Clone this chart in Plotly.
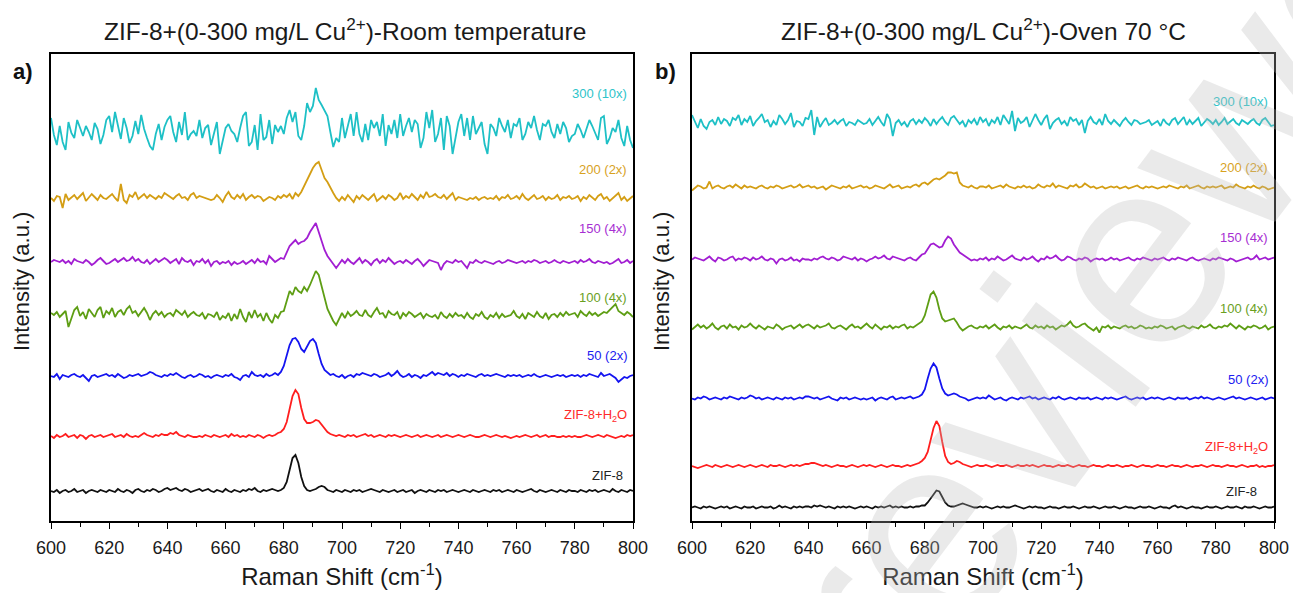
import numpy as np
import plotly.graph_objects as go

# Raman shift axis (cm^-1), 1 cm^-1 steps
shift_start, shift_end = 600, 800

# ---------- panel a: room temperature (intensity above each trace's baseline) ----------
a_zif8 = [0,-1,1,-2,0,1,-1,0,2,-1,0,1,-2,0,1,0,-1,1,0,-1,
          1,0,-1,2,0,-1,1,0,-2,1,2,0,-1,1,0,2,1,-1,0,2,
          3,1,2,3,1,0,2,1,-1,0,1,2,0,1,2,0,-1,1,0,-1,
          2,0,-1,1,0,-1,1,0,2,1,3,0,-1,1,0,1,2,1,0,1,
          3,9,22,33,36,28,14,5,1,0,1,2,4,5,4,1,0,-1,1,0,
          -1,1,0,-1,1,0,1,-1,0,1,2,1,0,-1,1,0,-1,0,1,-1,
          0,1,-1,0,1,-2,0,1,0,-1,1,0,-1,1,0,1,-1,0,1,0,
          -1,0,1,0,-1,1,0,-1,0,1,0,-1,1,0,1,-1,0,1,0,-1,
          1,0,-1,0,1,2,0,-1,1,0,-1,0,1,0,-1,1,0,-1,1,0,
          0,-1,1,0,-1,1,0,1,-1,0,1,0,-1,2,0,-1,1,0,-1,1,
          0]
a_h2o = [0,-2,1,-1,0,2,-1,0,1,-2,1,0,-3,0,1,-1,0,1,-1,0,
         1,2,-1,0,1,-1,2,0,-1,0,-1,1,3,1,0,-1,1,0,2,1,
         1,3,2,4,1,0,-1,1,0,-1,-1,0,-1,1,0,-1,1,0,-1,0,
         1,-1,2,0,1,-1,0,-1,1,0,-1,1,0,-2,0,1,0,1,3,4,
         7,14,28,40,46,42,28,17,13,13,14,16,15,11,7,4,2,1,0,1,
         0,-1,1,0,1,-1,0,1,2,0,1,-1,0,1,0,-1,1,0,1,0,
         -1,0,1,0,-1,0,1,-1,0,1,0,-1,0,1,-1,0,1,0,-1,0,
         1,0,-1,0,1,0,-1,-1,0,1,0,-1,0,1,0,-1,0,-1,-2,-1,
         0,-1,0,1,0,-1,0,1,-1,0,1,-1,0,0,-1,-1,0,-1,0,-1,
         0,-1,-1,0,1,0,-1,0,1,0,-1,1,0,-1,-2,-1,0,-1,1,0,
         1]
a_cu50 = [0,-1,2,-3,1,0,-1,1,2,0,-1,1,-2,-5,0,1,-1,0,1,2,
          0,1,-1,2,0,-2,-1,1,0,1,2,0,1,2,4,3,1,0,-1,1,
          0,2,1,3,1,-1,-2,0,1,-1,0,2,1,-1,0,-2,0,1,0,-1,
          1,0,2,-1,-2,-4,0,1,-1,4,1,0,1,-1,2,0,1,3,1,4,
          10,20,31,37,38,34,27,24,29,35,37,33,22,12,6,3,1,2,0,-1,
          1,-2,0,1,-1,2,1,3,2,1,0,2,1,-1,0,1,3,0,2,5,
          1,-1,0,2,-1,1,0,-2,1,0,2,4,1,3,2,1,3,0,2,1,
          -1,1,0,2,1,0,-1,1,2,0,1,0,1,2,1,0,-1,1,0,1,
          0,1,-1,0,1,0,2,0,-1,0,1,0,-1,0,1,0,1,-1,0,1,
          0,1,-1,1,0,2,1,0,-1,3,0,1,2,0,-2,-6,-3,-1,-2,0,
          1]
a_cu100 = [2,0,3,-2,1,4,-12,-3,5,8,-1,3,-4,6,2,-2,5,8,-3,4,
           1,7,-2,3,5,0,6,9,2,4,-1,3,7,2,-5,1,4,0,3,-2,
           1,2,-1,5,2,0,4,-2,1,3,0,-1,2,-4,1,0,-2,3,-5,-1,
           -3,2,-6,1,-4,6,-2,-7,3,-3,5,-2,1,-6,2,-4,-8,0,-3,3,
           4,14,24,20,28,24,22,28,24,30,38,44,40,28,18,6,0,-6,-10,-4,
           2,-3,3,-1,1,4,0,-1,5,0,-2,3,7,1,2,-3,4,1,0,3,
           -4,2,-1,3,1,-2,0,2,-3,1,-1,-2,0,-4,3,-1,-3,1,-2,2,
           -1,0,-3,2,-2,-4,1,-1,3,-2,-4,0,-2,2,-3,1,-2,-1,0,4,
           -1,-3,1,-4,2,0,-2,3,-1,-3,2,-4,0,1,-2,2,-1,3,0,1,
           2,-2,4,1,-1,3,0,2,-1,1,3,2,5,9,11,4,2,0,3,1,
           -2]
a_cu150 = [0,2,1,0,2,-1,1,-2,3,1,0,-1,2,0,-3,-1,2,4,1,-2,
           -1,1,3,0,2,4,1,2,5,1,3,0,-1,2,-2,1,3,0,2,4,
           2,-1,1,3,-2,4,1,0,2,-3,1,0,3,-1,2,-4,0,1,-2,0,
           -1,1,-3,0,-2,-1,1,-2,0,2,-1,3,0,1,-2,6,3,0,2,4,
           3,9,16,19,22,18,20,21,24,30,35,39,30,20,12,6,2,-3,-6,-2,
           2,-1,3,0,-2,1,4,-1,2,0,-3,1,3,-1,2,0,4,1,-2,0,
           1,-1,2,0,-2,1,3,0,-4,-1,2,1,0,-1,-8,-2,1,0,-1,2,
           0,1,-2,-6,0,-1,2,0,-1,1,0,-1,-2,0,1,-1,0,2,1,0,
           -1,0,1,-1,1,0,2,1,-1,0,1,-1,0,2,0,-1,1,0,-1,0,
           1,-1,2,0,1,3,0,-1,1,0,-1,0,-2,-1,1,3,-1,0,2,-1,
           1]
a_cu200 = [0,-3,2,1,-10,4,-2,1,3,-1,2,5,-3,0,4,1,-2,3,0,-1,
           2,4,0,-3,14,-2,-5,3,1,6,-1,2,4,0,3,1,-1,2,0,5,
           3,1,-1,2,4,0,1,-2,3,5,0,2,1,0,-1,-2,-1,3,0,-4,
           2,6,1,-1,3,0,4,-2,1,3,0,2,1,-3,-1,1,0,-2,2,0,
           3,1,4,-1,5,2,6,12,17,24,30,34,36,28,20,16,10,5,0,-3,
           1,-2,3,0,-4,2,-1,3,0,-2,1,4,-3,0,2,-1,3,1,-2,0,
           5,-1,2,0,4,1,-2,3,0,6,1,2,4,1,0,3,-1,2,5,-2,
           1,0,-1,-2,0,-1,1,-2,0,1,-1,0,-1,2,-2,1,0,3,-1,0,
           2,-1,4,0,-2,1,3,-1,0,2,-2,1,-1,0,3,-2,1,0,2,-1,
           0,2,-3,1,-1,3,0,-2,2,4,-1,1,-3,0,2,5,-2,1,-3,0,
           2]
a_cu300 = [12,-5,-15,4,-12,-20,8,-3,-8,10,2,-6,4,-2,-10,7,1,-14,-5,10,
           14,-2,18,3,-9,12,2,-13,-6,9,-4,15,1,-8,-16,-20,-4,6,-10,3,
           10,14,-2,-12,8,-5,18,-10,-4,-1,-6,10,-8,2,5,-15,-3,8,-24,-10,
           2,6,-1,-4,-12,2,14,18,-16,-12,5,-20,16,-10,-7,10,-14,5,-2,4,
           -4,12,20,8,18,-6,-10,4,27,18,24,42,30,25,20,14,-2,-17,-8,-12,
           12,-8,4,16,-6,18,-4,-12,6,-10,10,2,8,-6,16,-16,5,-4,10,-8,
           16,-6,4,12,-2,10,6,-18,-8,18,2,20,-12,-4,12,-20,14,4,-24,-8,
           8,16,-6,12,-10,14,-4,2,8,-14,-24,6,2,-6,12,4,-2,10,-8,6,
           4,12,-10,-4,8,2,14,0,-10,6,4,10,-2,-8,6,-4,8,2,-12,-6,
           -4,6,0,-8,2,10,4,-4,-10,12,14,-14,-8,2,-2,10,-8,-16,4,-10,
           -18]

# ---------- panel b: oven 70 °C ----------
b_zif8 = [0,1,0,-1,1,0,1,0,-1,0,1,0,1,-1,0,1,0,-1,1,0,
          0,1,-1,0,1,0,0,1,-1,0,2,0,1,0,-1,1,0,1,0,1,
          1,0,2,1,2,1,0,1,0,-1,1,0,1,0,1,0,-1,0,1,0,
          1,0,-1,1,0,1,0,1,2,0,1,0,1,0,0,1,0,1,1,2,
          2,5,9,14,17,16,11,5,2,1,1,2,3,4,3,2,1,0,0,1,
          0,1,0,-1,0,1,0,1,0,0,1,2,1,0,-1,0,1,0,1,0,
          0,-1,0,1,0,0,-1,0,1,0,0,1,0,-1,0,1,0,0,1,0,
          -1,0,1,0,0,1,0,-1,0,1,0,0,-1,0,1,0,0,1,0,-1,
          0,1,0,0,-1,1,2,0,1,0,-1,0,1,0,0,-1,0,1,0,0,
          1,0,-1,0,1,0,0,1,0,-1,1,0,0,1,0,-1,0,1,0,0,
          1]
b_h2o = [0,-1,-2,-1,0,1,0,-1,1,0,-1,0,1,0,-1,0,1,0,-1,0,
         1,0,-1,0,1,0,-1,1,0,0,1,0,-1,0,1,0,1,0,1,2,
         2,3,3,2,1,0,1,0,-1,0,1,0,0,-1,0,1,0,-1,0,1,
         0,1,0,-1,0,1,0,-1,0,1,0,0,-1,0,1,0,1,2,3,5,
         8,14,26,38,45,40,24,10,4,2,3,5,4,2,1,0,-1,0,1,0,
         0,1,0,-1,0,1,0,0,1,0,-1,0,1,0,0,1,0,1,0,-1,
         0,1,0,0,-1,0,1,0,0,1,0,-1,0,1,0,0,-1,0,1,0,
         0,-1,0,1,0,0,1,0,-1,0,0,1,0,-1,0,1,0,0,-1,0,
         1,0,0,-1,0,1,0,0,-1,0,1,0,-1,0,0,1,0,-1,0,1,
         0,0,-1,0,1,0,0,-1,0,1,0,-1,0,0,1,-1,0,-1,0,0,
         1]
b_cu50 = [0,-1,1,0,2,1,-1,0,1,0,-1,1,0,2,1,0,-1,1,0,1,
          3,2,0,1,-1,0,1,0,-1,1,0,-1,1,0,1,-1,0,1,0,2,
          2,1,0,1,-1,0,1,2,0,-1,-2,1,0,1,-1,0,1,0,-1,0,
          -1,0,1,-2,0,1,0,-1,1,2,-1,0,1,0,1,2,0,1,2,4,
          9,20,30,35,31,20,10,5,3,4,5,4,2,1,0,-2,-1,0,1,0,
          1,0,3,1,-1,0,1,-1,-2,0,1,0,-1,1,0,1,2,0,1,-1,
          0,1,0,-1,1,0,2,0,-1,0,1,0,-1,1,0,0,1,-1,0,1,
          0,-1,1,0,1,0,-1,0,1,2,0,-1,0,1,0,1,-1,0,1,0,
          1,0,-1,0,1,0,-1,1,0,0,1,-1,0,1,0,2,0,1,0,-1,
          0,1,0,-1,0,1,2,0,1,0,-1,0,1,0,-1,0,1,-1,0,1,
          0]
b_cu100 = [-2,1,3,0,2,-1,1,4,0,-2,1,2,-1,3,0,1,-2,2,0,1,
           4,1,-1,2,0,-2,1,0,-1,3,1,-2,0,1,2,-1,1,3,0,2,
           3,1,-1,2,0,1,2,4,0,-1,1,2,0,-2,1,3,0,1,-1,2,
           4,1,-1,3,0,-2,1,0,2,-1,1,0,2,3,-1,1,0,2,4,6,
           12,24,33,36,30,18,9,6,7,8,9,5,0,-3,-1,1,2,0,-1,1,
           0,2,-1,1,3,0,-2,1,0,2,-1,1,0,-1,1,3,0,-1,2,0,
           1,-1,2,0,1,-2,0,2,1,3,6,2,0,1,3,4,1,-1,-3,0,
           -5,1,0,2,-1,1,0,-1,1,2,0,1,-1,0,2,1,-1,0,-1,1,
           0,2,1,-1,0,1,-2,0,1,2,0,-1,1,0,-1,2,0,1,3,0,
           -1,1,0,2,1,4,1,-1,2,0,-2,1,0,2,1,-1,0,2,-2,0,
           1]
b_cu150 = [0,2,1,0,-1,1,3,0,-2,2,1,-1,0,2,3,-1,1,0,2,1,
           -1,2,0,1,3,0,-1,1,0,-4,0,1,-1,0,2,-1,0,-2,1,0,
           0,-1,1,0,2,3,1,0,2,1,-1,0,3,2,1,0,2,-1,1,0,
           -2,0,1,3,1,2,4,1,0,3,2,1,0,-1,1,2,0,-1,2,5,
           6,10,15,16,14,12,13,19,23,21,15,11,7,5,3,1,-1,0,-1,1,
           0,2,-1,1,0,3,1,-1,0,2,4,1,0,-1,2,0,1,3,0,-2,
           1,0,3,1,2,4,1,-1,0,3,2,0,-1,1,0,2,1,-2,0,1,
           0,1,-1,0,2,0,1,-1,0,1,2,0,-1,1,0,2,1,0,-1,1,
           0,1,2,0,-1,1,0,2,1,0,-1,1,2,0,-1,0,1,0,-1,1,
           0,2,1,0,-1,1,0,-2,-1,0,1,2,0,1,4,0,1,2,0,1,
           2]
b_cu200 = [-3,0,2,1,-1,0,6,-1,1,2,0,-1,1,2,0,3,1,-1,2,0,
           1,0,-1,1,2,0,-1,1,0,2,1,-1,0,1,2,0,1,3,0,1,
           2,0,1,-1,0,1,-2,0,2,1,0,-1,1,0,2,-1,0,1,2,0,
           1,-1,0,2,1,0,-1,1,3,0,1,2,-1,0,1,0,2,3,1,4,
           5,3,6,8,9,8,10,12,15,15,14,15,5,2,1,0,2,0,-1,1,
           1,0,2,-1,0,1,2,0,3,1,0,-1,1,0,2,0,1,-1,0,3,
           1,0,2,1,4,0,2,1,0,-1,2,1,3,0,1,4,2,0,1,-1,
           0,1,-1,0,1,0,1,-1,0,1,-1,0,1,2,0,-1,1,0,1,0,
           -1,0,1,0,2,1,0,-1,1,0,2,-1,0,1,2,0,-1,1,0,1,
           0,1,2,-1,0,1,0,3,1,0,-1,1,0,2,0,-1,1,0,-2,-1,
           0]
b_cu300 = [8,2,-5,4,-3,-6,1,3,-2,6,-1,4,2,-3,5,3,8,-2,4,1,
           7,-3,2,5,9,1,3,-4,2,-2,8,4,-1,3,10,-4,2,1,-3,5,
           4,13,-12,6,-4,1,5,-2,0,3,-1,2,4,-3,1,0,-2,3,1,-1,
           0,4,-2,2,6,1,-3,9,4,-13,0,3,-2,1,-4,2,4,-1,3,0,
           5,2,-3,4,-1,3,6,1,-2,5,7,3,-1,2,-4,3,0,4,-2,6,
           1,4,-3,3,0,6,-2,8,4,-1,12,-8,5,0,2,6,-4,2,9,3,
           -2,4,8,-6,0,3,5,-1,2,-3,6,2,4,-2,3,-10,2,6,1,-1,
           4,-2,9,2,-1,3,0,-3,2,5,1,-2,3,2,-1,0,1,3,-2,0,
           2,-3,4,0,-2,3,5,-1,2,6,-2,3,-1,2,5,-3,1,4,2,-1,
           3,-2,1,5,-1,2,4,0,-2,3,1,-1,2,4,0,-2,3,5,1,-3,
           -2]

# series names (bottom to top), stacking offsets and label text
series_labels = ["ZIF-8", "ZIF-8+H<sub>2</sub>O", "50 (2x)", "100 (4x)",
                 "150 (4x)", "200 (2x)", "300 (10x)"]
panel_a = [a_zif8, a_h2o, a_cu50, a_cu100, a_cu150, a_cu200, a_cu300]
panel_b = [b_zif8, b_h2o, b_cu50, b_cu100, b_cu150, b_cu200, b_cu300]
offsets_a = [30, 85, 145, 206, 259, 323, 391]
offsets_b = [13.5, 55, 122.5, 193.5, 261.5, 333.5, 398]
label_y_a = [46, 106, 166, 224, 292, 351, 427]
label_y_b = [29.3, 74, 141.5, 212.3, 283.5, 353, 419.5]

line_colors = ["#111111", "#FF1E1E", "#1414F0", "#5E9E14", "#A21ED2", "#D49E14", "#1EC0C6"]
label_colors = ["#222222", "#FF2A2A", "#2020F0", "#6AA01E", "#A62ED2", "#D8A21E", "#2EC4CA"]

W, H = 1293, 593
TOP, BOTTOM = 54, 521
y_span = BOTTOM - TOP

fig = go.Figure()

for panel, offs, xa, ya in [(panel_a, offsets_a, "x", "y"), (panel_b, offsets_b, "x2", "y2")]:
    for vals, off, col in zip(panel, offs, line_colors):
        v = np.asarray(vals, dtype=float)
        x = shift_start + np.arange(len(v))
        fig.add_trace(go.Scatter(x=x, y=v + off, mode="lines", xaxis=xa, yaxis=ya,
                                 line=dict(color=col, width=1.8), showlegend=False,
                                 hoverinfo="skip"))

FONT = "Liberation Sans, Arial, sans-serif"
axis_common = dict(
    range=[shift_start, shift_end], dtick=20, tick0=600, automargin=False,
    showline=True, linecolor="#000000", linewidth=1.6, mirror=True,
    ticks="outside", ticklen=6, tickwidth=1.4, tickcolor="#000000", ticklabelstandoff=4,
    minor=dict(dtick=10, ticks="outside", ticklen=4, tickwidth=1.2, tickcolor="#000000"),
    showgrid=False, zeroline=False,
    tickfont=dict(family=FONT, size=18, color="#1a1a1a"),
    title=dict(text="Raman Shift (cm<sup>-1</sup>)", font=dict(family=FONT, size=24, color="#1a1a1a"),
               standoff=11),
)
yaxis_common = dict(
    range=[0, y_span], showline=True, linecolor="#000000", linewidth=1.6, mirror=True,
    showticklabels=False, ticks="", showgrid=False, zeroline=False, automargin=False,
    domain=[(H - BOTTOM) / H, (H - TOP) / H],
)

fig.update_layout(
    width=W, height=H, autosize=False,
    margin=dict(l=0, r=0, t=0, b=0, pad=0),
    paper_bgcolor="white", plot_bgcolor="white",
    xaxis=dict(domain=[51 / W, 633 / W], anchor="y", **axis_common),
    yaxis=dict(anchor="x", **yaxis_common),
    xaxis2=dict(domain=[692 / W, 1274 / W], anchor="y2", **axis_common),
    yaxis2=dict(anchor="x2", **yaxis_common),
)

ann = []
# panel titles
ann.append(dict(text="ZIF-8+(0-300 mg/L Cu<sup>2+</sup>)-Room temperature", x=345 / W, y=(H - 29) / H,
                xref="paper", yref="paper", showarrow=False, xanchor="center", yanchor="middle",
                font=dict(family=FONT, size=24.5, color="#1a1a1a")))
ann.append(dict(text="ZIF-8+(0-300 mg/L Cu<sup>2+</sup>)-Oven 70 °C", x=983 / W, y=(H - 29) / H,
                xref="paper", yref="paper", showarrow=False, xanchor="center", yanchor="middle",
                font=dict(family=FONT, size=24.5, color="#1a1a1a")))
# panel letters
for txt, px in [("a)", 23), ("b)", 665)]:
    ann.append(dict(text=f"<b>{txt}</b>", x=px / W, y=(H - 72) / H, xref="paper", yref="paper",
                    showarrow=False, xanchor="center", yanchor="middle",
                    font=dict(family=FONT, size=22, color="#111111")))
# y-axis titles
for px in [21, 661]:
    ann.append(dict(text="Intensity (a.u.)", x=px / W, y=(H - 282) / H,
                    xref="paper", yref="paper", showarrow=False, textangle=-90,
                    xanchor="center", yanchor="middle",
                    font=dict(family=FONT, size=22, color="#1a1a1a")))
# trace labels
for xr, yr, ys, xr_pos, z_pos in [("x", "y", label_y_a, 798.5, 797.2), ("x2", "y2", label_y_b, 798.5, 795.0)]:
    for i, (lab, yv, col) in enumerate(zip(series_labels, ys, label_colors)):
        ann.append(dict(text=lab, x=z_pos if i == 0 else xr_pos, y=yv, xref=xr, yref=yr,
                        showarrow=False, xanchor="right", yanchor="middle",
                        font=dict(family=FONT, size=13, color=col)))
# diagonal watermark
ann.append(dict(text="reviewed", x=1149 / W, y=(H - 233) / H, xref="paper", yref="paper",
                showarrow=False, textangle=-53, xanchor="center", yanchor="middle",
                font=dict(family=FONT, size=270, color="rgba(185,185,185,0.3)")))

fig.update_layout(annotations=ann)
fig.write_html("out.html")
